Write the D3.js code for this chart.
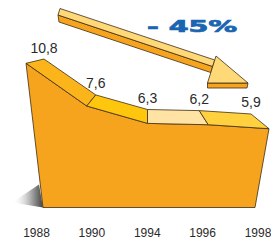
<!DOCTYPE html>
<html>
<head>
<meta charset="utf-8">
<script src="https://cdn.jsdelivr.net/npm/d3@7"></script>
<style>
  body { margin: 0; background: #fff; }
  svg { display: block; }
</style>
</head>
<body>
<div id="root"></div>
<script>
const w = 271;
const h = 240;

// data
const years = ["1988", "1990", "1994", "1996", "1998"];
const values = [10.8, 7.6, 6.3, 6.2, 5.9];
const changeLabel = "- 45%";

// colours of the top strip, one per segment between two years
const topColors = ["#fbb51b", "#ffc60e", "#fee3a4", "#ffd13f"];
const frontColor = "#f6a41e";
const edge = "#3d2c16";

const fmt = d3.formatLocale({decimal: ",", thousands: ".", grouping: [3], currency: ["", ""]}).format(".1f");

// back edge of the top strip, front face, base and labels all use their own point scale
const xBack = d3.scalePoint().domain(years).range([44, 251]);
const xFront = d3.scalePoint().domain(years).range([26, 269]);
const xBase = d3.scalePoint().domain(years).range([43, 255]);
const xLabel = d3.scalePoint().domain(years).range([36.5, 258]);
const yBack = d3.scaleLinear().domain([0, 10.8]).range([180.2, 59]);
const yFront = d3.scaleLinear().domain([0, 10.8]).range([207.5, 63.3]);

const data = years.map((y, i) => ({year: y, value: values[i]}));

const svg = d3.select("#root")
    .append("svg")
    .attr("width", w)
    .attr("height", h);

const defs = svg.append("defs");
const grad = defs.append("linearGradient")
    .attr("id", "shadow")
    .attr("x1", "0").attr("x2", "1").attr("y1", "0").attr("y2", "0");
grad.append("stop").attr("offset", "0").attr("stop-color", "#fff").attr("stop-opacity", 0);
grad.append("stop").attr("offset", "0.55").attr("stop-color", "#bbb");
grad.append("stop").attr("offset", "1").attr("stop-color", "#444");

const line = d3.line();

// shadow left of the block
const first = data[0];
const bx = xBase(first.year), by = yFront(0);
svg.append("path")
    .attr("d", line([[bx - 31, by - 5], [bx - 4, by - 23], [bx, by]]) + "Z")
    .attr("fill", "url(#shadow)");

// front face
const frontPts = data.map(d => [xFront(d.year), yFront(d.value)]);
const last = data[data.length - 1];
frontPts.push([xBase(last.year), yFront(0)]);
frontPts.push([xBase(first.year), yFront(0)]);
svg.append("path")
    .attr("d", line(frontPts) + "Z")
    .attr("fill", frontColor)
    .attr("stroke", edge)
    .attr("stroke-width", 0.8)
    .attr("stroke-linejoin", "round");

// top strip segments
const segs = d3.pairs(data);
svg.append("g")
    .selectAll("path")
    .data(segs)
    .enter()
    .append("path")
    .attr("d", ([a, b]) => line([
        [xBack(a.year), yBack(a.value)],
        [xBack(b.year), yBack(b.value)],
        [xFront(b.year), yFront(b.value)],
        [xFront(a.year), yFront(a.value)]
    ]) + "Z")
    .attr("fill", (d, i) => topColors[i])
    .attr("stroke", edge)
    .attr("stroke-width", 0.8)
    .attr("stroke-linejoin", "round");

// value labels
svg.append("g")
    .selectAll("text")
    .data(data)
    .enter()
    .append("text")
    .attr("x", d => xBack(d.year))
    .attr("y", d => yBack(d.value) - 6.5)
    .attr("text-anchor", "middle")
    .attr("font-family", "Liberation Sans, Arial, sans-serif")
    .attr("font-size", 14)
    .attr("fill", "#2a2a2a")
    .text(d => fmt(d.value));

// year labels
svg.append("g")
    .selectAll("text")
    .data(years)
    .enter()
    .append("text")
    .attr("x", d => xLabel(d))
    .attr("y", 237)
    .attr("text-anchor", "middle")
    .attr("font-family", "Liberation Sans, Arial, sans-serif")
    .attr("font-size", 12)
    .attr("fill", "#2a2a2a")
    .text(d => d);

// trend arrow
const arrow = {
    ends: [[60, 8.5], [58, 15], [59, 22]], // left cap: top, fold, bottom
    slope: 0.333,
    barb: [216, 56],
    tip: [248, 83],
    heel: [207.5, 83],
    depth: 5
};
function meet(p, s, a, b) {
    const dx = b[0] - a[0], dy = b[1] - a[1];
    const t = (s * (a[0] - p[0]) - (a[1] - p[1])) / (dy - s * dx);
    return [a[0] + t * dx, a[1] + t * dy];
}
const cut = arrow.ends.map(p => meet(p, arrow.slope, arrow.barb, arrow.heel));
const ag = svg.append("g")
    .attr("stroke", edge)
    .attr("stroke-width", 0.8)
    .attr("stroke-linejoin", "round");
ag.append("path")
    .attr("d", line([arrow.ends[1], cut[1], cut[2], arrow.ends[2]]) + "Z")
    .attr("fill", frontColor);
ag.append("path")
    .attr("d", line([arrow.ends[0], cut[0], cut[1], arrow.ends[1]]) + "Z")
    .attr("fill", "#ffd978");
ag.append("path")
    .attr("d", line([arrow.heel, arrow.tip, [arrow.tip[0] - 1, arrow.tip[1] + arrow.depth],
        [arrow.heel[0], arrow.heel[1] + arrow.depth]]) + "Z")
    .attr("fill", frontColor);
ag.append("path")
    .attr("d", line([arrow.barb, arrow.tip, arrow.heel]) + "Z")
    .attr("fill", "#ffd978");

// change label
svg.append("text")
    .attr("x", 147)
    .attr("y", 32)
    .attr("font-family", "DejaVu Sans, sans-serif")
    .attr("font-weight", "bold")
    .attr("font-size", 15)
    .attr("textLength", 90)
    .attr("lengthAdjust", "spacingAndGlyphs")
    .attr("fill", "#1b66b1")
    .attr("stroke", "#1b66b1")
    .attr("stroke-width", 0.7)
    .text(changeLabel);
</script>
</body>
</html>
